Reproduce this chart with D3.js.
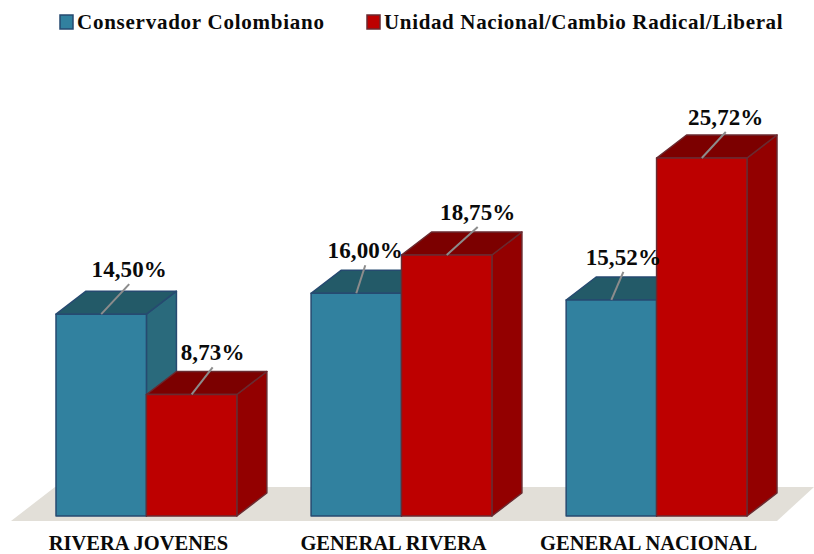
<!DOCTYPE html>
<html>
<head>
<meta charset="utf-8">
<script src="https://cdn.jsdelivr.net/npm/d3@7"></script>
<style>
  html, body { margin: 0; padding: 0; background: #fff; }
  svg { display: block; }
  text { font-family: "Liberation Serif", serif; font-weight: bold; fill: #0a0a0a; }
</style>
</head>
<body>
<div id="chart"></div>
<script>
const categories = ["RIVERA JOVENES", "GENERAL RIVERA", "GENERAL NACIONAL"];
const seriesNames = ["Conservador Colombiano", "Unidad Nacional/Cambio Radical/Liberal"];
const conservador = [14.50, 16.00, 15.52];
const unidad = [8.73, 18.75, 25.72];

const width = 814, height = 554;
const baseY = 516, topY = 158;
const depthX = 30, depthY = 23;

const palette = [
    { front: "#31819f", top: "#235a68", side: "#2a6a7c", stroke: "#264a70" },
    { front: "#bd0000", top: "#7c0000", side: "#930000", stroke: "#6a2a30" }
];

// where each leader line ends, relative to the top centre of the bar
const leaders = [
    [[28, -30], [21, -27]],
    [[9, -28], [31, -28]],
    [[12, -28], [24, -26]]
];

const svg = d3.select("#chart")
    .append("svg")
    .attr("width", width)
    .attr("height", height);

const x = d3.scaleBand()
    .domain(categories)
    .range([56, 747])
    .paddingInner(0.291)
    .paddingOuter(0);

const x1 = d3.scaleBand()
    .domain([0, 1])
    .range([0, x.bandwidth()]);

const y = d3.scaleLinear()
    .domain([0, 25.72])
    .range([baseY, topY]);

// floor
const floorPath = d3.path();
floorPath.moveTo(11, 521);
floorPath.lineTo(777, 521);
floorPath.lineTo(814, 487);
floorPath.lineTo(55, 487);
floorPath.closePath();
svg.append("path").attr("d", floorPath.toString()).attr("fill", "#e2dfd8");

const rows = [];
categories.forEach((c, i) => {
    rows.push({ cat: c, i: i, s: 0, value: conservador[i] });
    rows.push({ cat: c, i: i, s: 1, value: unidad[i] });
});

function poly(points) {
    return d3.line()(points) + "Z";
}

const bars = svg.append("g").selectAll("g")
    .data(rows)
    .join("g")
    .attr("stroke-width", 1.5)
    .attr("stroke-linejoin", "round")
    .attr("stroke", d => palette[d.s].stroke);

// side face
bars.append("path")
    .attr("fill", d => palette[d.s].side)
    .attr("d", d => {
        const r = x(d.cat) + x1(d.s) + x1.bandwidth(), t = y(d.value);
        return poly([[r, t], [r + depthX, t - depthY], [r + depthX, baseY - depthY], [r, baseY]]);
    });

// top face
bars.append("path")
    .attr("fill", d => palette[d.s].top)
    .attr("d", d => {
        const l = x(d.cat) + x1(d.s), r = l + x1.bandwidth(), t = y(d.value);
        return poly([[l, t], [l + depthX, t - depthY], [r + depthX, t - depthY], [r, t]]);
    });

// front face
bars.append("rect")
    .attr("fill", d => palette[d.s].front)
    .attr("x", d => x(d.cat) + x1(d.s))
    .attr("y", d => y(d.value))
    .attr("width", x1.bandwidth())
    .attr("height", d => baseY - y(d.value));

// leader lines and value labels go on top of every bar
const labels = svg.append("g").selectAll("g")
    .data(rows)
    .join("g");

labels.append("line")
    .attr("stroke", "#8c8c8c")
    .attr("stroke-width", 2)
    .attr("x1", d => x(d.cat) + x1(d.s) + x1.bandwidth() / 2)
    .attr("y1", d => y(d.value))
    .attr("x2", d => x(d.cat) + x1(d.s) + x1.bandwidth() / 2 + leaders[d.i][d.s][0])
    .attr("y2", d => y(d.value) + leaders[d.i][d.s][1]);

labels.append("text")
    .attr("text-anchor", "middle")
    .attr("font-size", 23)
    .attr("letter-spacing", 0.1)
    .attr("x", d => x(d.cat) + x1(d.s) + x1.bandwidth() / 2 + leaders[d.i][d.s][0])
    .attr("y", d => y(d.value) + leaders[d.i][d.s][1] - 7)
    .text(d => d3.format(".2f")(d.value).replace(".", ",") + "%");

// category labels
const axis = svg.append("g")
    .attr("transform", `translate(-8,${baseY})`)
    .call(d3.axisBottom(x).tickSize(0).tickPadding(19));
axis.select(".domain").remove();
axis.selectAll("text")
    .attr("font-size", 20.5)
    .attr("font-family", "Liberation Serif")
    .attr("fill", "#0a0a0a");

// legend
const legendX = [60, 367];
const legendSpacing = [0.75, 0.65];
const legend = svg.append("g").selectAll("g")
    .data(seriesNames)
    .join("g")
    .attr("transform", (d, i) => `translate(${legendX[i]},15)`);

legend.append("rect")
    .attr("width", 13)
    .attr("height", 14)
    .attr("fill", (d, i) => palette[i].front)
    .attr("stroke", (d, i) => palette[i].stroke)
    .attr("stroke-width", 1.5);

legend.append("text")
    .attr("x", 17)
    .attr("y", 14)
    .attr("font-size", 21)
    .attr("letter-spacing", (d, i) => legendSpacing[i])
    .text(d => d);
</script>
</body>
</html>
